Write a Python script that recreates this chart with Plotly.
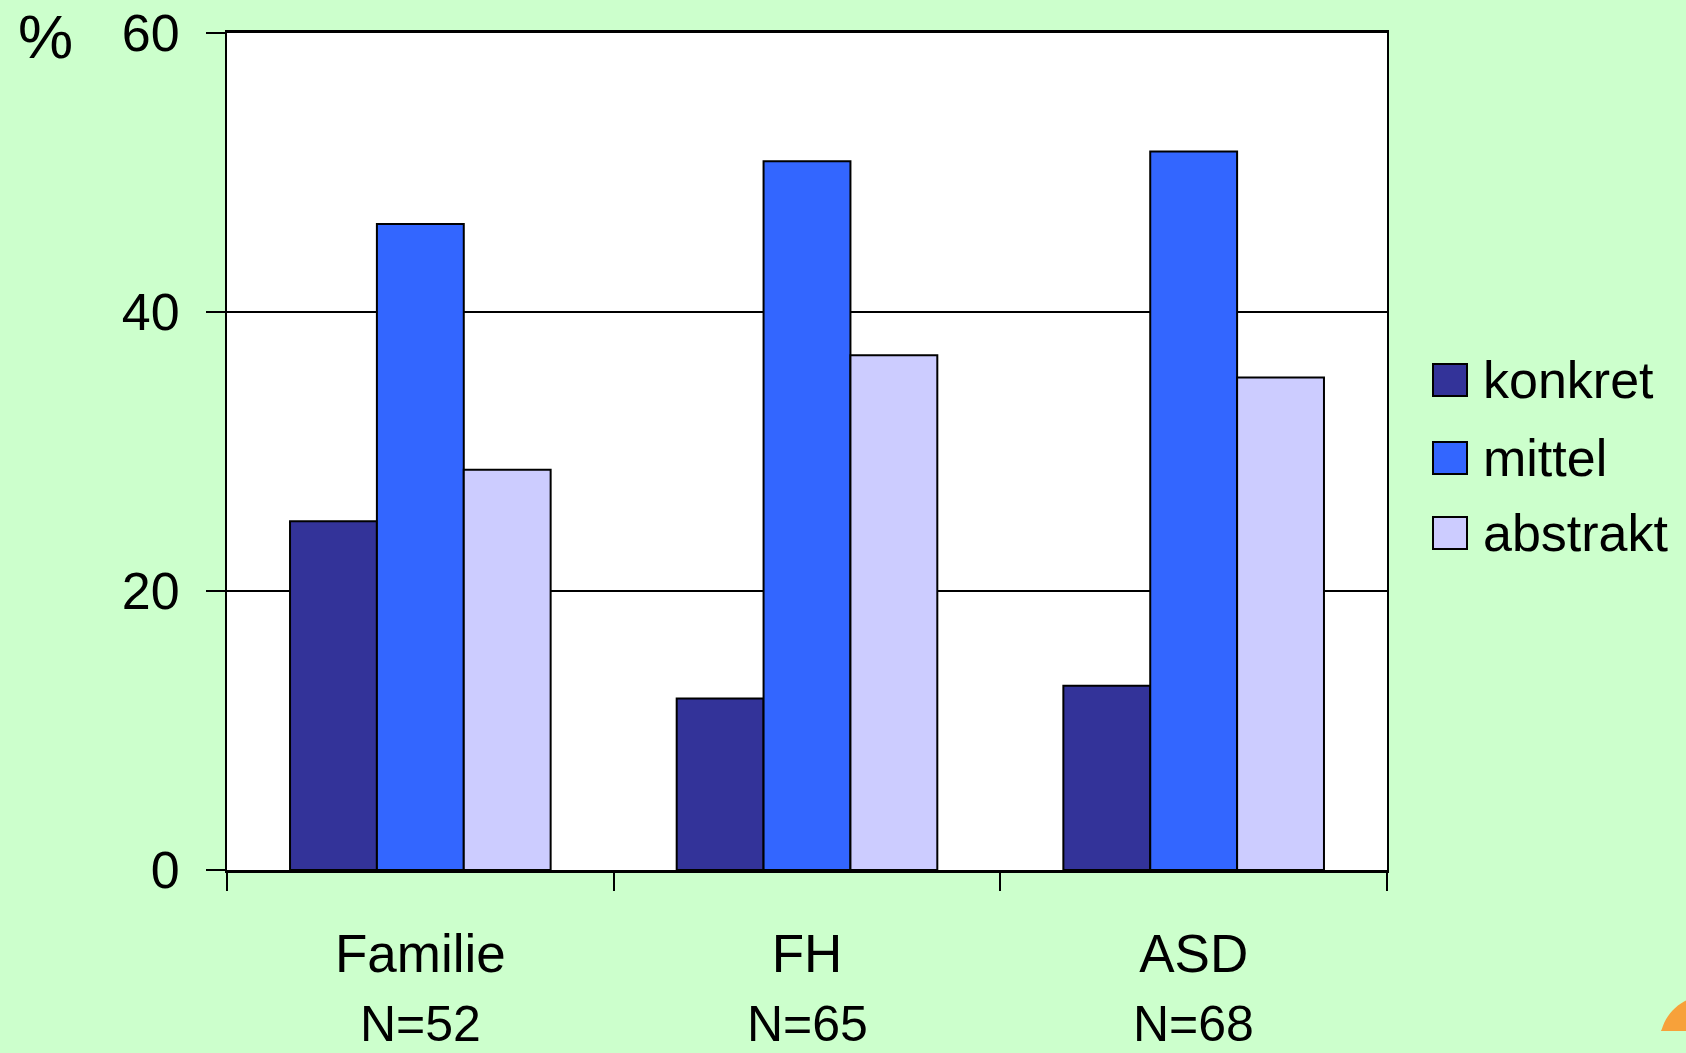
import numpy as np
import plotly.graph_objects as go

categories = ["Familie", "FH", "ASD"]
n_labels = ["N=52", "N=65", "N=68"]
series_names = ["konkret", "mittel", "abstrakt"]
konkret = [25.0, 12.3, 13.2]
mittel = [46.3, 50.8, 51.5]
abstrakt = [28.7, 36.9, 35.3]
y_ticks = [0, 20, 40, 60]

colors = ["#333399", "#3366FF", "#CCCCFF"]
BG = "#CCFFCC"
FONT = "Arial, Liberation Sans, sans-serif"

W, H = 1686, 1053
L, R, T, B = 227, 1387, 33, 870

def px(x):
    return (x - L) / (R - L)

def py(y):
    return (B - y) / (B - T)

fig = go.Figure()
for name, vals, col in zip(series_names, [konkret, mittel, abstrakt], colors):
    fig.add_trace(go.Bar(
        x=categories, y=vals, name=name,
        marker=dict(color=col, line=dict(color="black", width=2)),
        showlegend=False,
    ))

shapes = []
annotations = []

# manual legend
leg_y = [380, 458, 533]
for name, col, yy in zip(series_names, colors, leg_y):
    shapes.append(dict(type="rect", xref="paper", yref="paper",
                       x0=px(1433), x1=px(1467), y0=py(yy + 16), y1=py(yy - 16),
                       fillcolor=col, line=dict(color="black", width=2)))
    annotations.append(dict(text=name, xref="paper", yref="paper",
                            x=px(1481), y=py(yy), xanchor="left", yanchor="middle",
                            showarrow=False, font=dict(size=52, color="black", family=FONT)))

# N labels
for c, n in zip(categories, n_labels):
    annotations.append(dict(text=n, xref="x", yref="paper", x=c, y=py(1024),
                            xanchor="center", yanchor="middle", showarrow=False,
                            font=dict(size=50, color="black", family=FONT)))

# percent sign
annotations.append(dict(text="%", xref="paper", yref="paper", x=px(45), y=py(37),
                        xanchor="center", yanchor="middle", showarrow=False,
                        font=dict(size=62, color="black", family=FONT)))

# orange decoration in the bottom-right corner
cx, cy, r = 1706, 1042, 46
ang = np.linspace(0, 2 * np.pi, 80)
xs = cx + r * np.cos(ang)
ys = np.minimum(cy + r * np.sin(ang), 1031)
path = "M " + " L ".join(f"{px(a):.5f},{py(b):.5f}" for a, b in zip(xs, ys)) + " Z"
shapes.append(dict(type="path", xref="paper", yref="paper", path=path,
                   fillcolor="#F7A13A", line=dict(width=0), layer="above"))

fig.update_layout(
    width=W, height=H,
    margin=dict(l=L, r=W - R, t=T, b=H - B, pad=0, autoexpand=False),
    paper_bgcolor=BG, plot_bgcolor="white",
    barmode="group", bargap=0.326, bargroupgap=0,
    font=dict(family=FONT, size=53, color="black"),
    shapes=shapes, annotations=annotations,
    xaxis=dict(type="category", tickson="boundaries", ticks="outside", ticklen=18,
               tickwidth=2, tickcolor="black", showline=True, linecolor="black",
               linewidth=3, mirror=True, showgrid=False, automargin=False,
               tickfont=dict(size=53, family=FONT, color="black"),
               ticklabelstandoff=35),
    yaxis=dict(range=[0, 60], tickvals=y_ticks, ticks="outside", ticklen=19,
               tickwidth=2, tickcolor="black", showline=True, linecolor="black",
               linewidth=2, mirror=True, showgrid=True, gridcolor="black",
               gridwidth=1.5, zeroline=False, ticklabelstandoff=16,
               automargin=False, ticklabeloverflow="allow",
               tickfont=dict(size=52, family=FONT, color="black")),
)

fig.write_html("out.html", config={"displayModeBar": False})

with open("out.html", "r", encoding="utf-8") as f:
    html = f.read()
html = html.replace("<body>", '<body style="margin:0;overflow:hidden;background:#CCFFCC">', 1)
with open("out.html", "w", encoding="utf-8") as f:
    f.write(html)
